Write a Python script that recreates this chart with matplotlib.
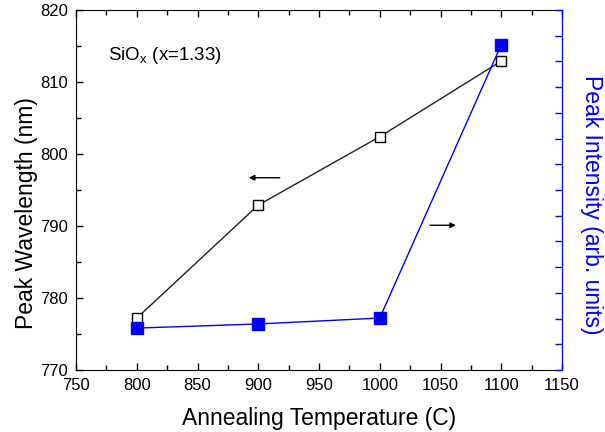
import numpy as np
import matplotlib.pyplot as plt
from matplotlib.ticker import MultipleLocator, NullFormatter

plt.rcParams['font.family'] = ['Liberation Sans', 'DejaVu Sans']

temps = [800, 900, 1000, 1100]
wavelength = [777.2, 792.9, 802.4, 812.9]
intensity = [1.63, 1.79, 2.02, 12.65]   # arb. units

blue = '#0000ff'

fig = plt.figure(figsize=(6.05, 4.32), dpi=100)
ax = fig.add_axes([0.1256, 0.1435, 0.8034, 0.8335])
ax2 = ax.twinx()

ax.plot(temps, wavelength, color='#222222', lw=1, marker='s', ms=7.5,
        mfc='white', mec='black', mew=1, zorder=3)
ax2.plot(temps, intensity, color=blue, lw=1, marker='s', ms=8,
         mfc=blue, mec=blue, zorder=3)

ax.set_xlim(750, 1150)
ax.set_ylim(770, 820)
ax2.set_ylim(0, 14)

ax.xaxis.set_major_locator(MultipleLocator(50))
ax.xaxis.set_minor_locator(MultipleLocator(25))
ax.yaxis.set_major_locator(MultipleLocator(10))
ax.yaxis.set_minor_locator(MultipleLocator(5))
ax.tick_params(which='both', direction='in', top=True, labelsize=12, pad=6)
ax.tick_params(which='major', length=5, width=1)
ax.tick_params(which='minor', length=3.5, width=1)

ax2.yaxis.set_major_locator(MultipleLocator(1))
ax2.yaxis.set_major_formatter(NullFormatter())
ax2.tick_params(axis='y', direction='in', length=5, width=1, colors=blue)
ax2.spines['right'].set_color(blue)
for s in ['left', 'top', 'bottom']:
    ax2.spines[s].set_visible(False)

ax.set_xlabel('Annealing Temperature (C)', fontsize=16.5, labelpad=9.5)
ax.set_ylabel('Peak Wavelength (nm)', fontsize=16.5, labelpad=1.5)
ax.yaxis.label.set_y(0.435)
ax2.set_ylabel('Peak Intensity (arb. units)', fontsize=16.5, color=blue,
               rotation=270, labelpad=26)
ax2.yaxis.label.set_y(0.46)

ax.text(776, 813.7, r'SiO$_\mathregular{x}$ (x=1.33)', fontsize=13.5,
        va='center', ha='left')

ax.annotate('', xy=(890, 796.7), xytext=(920, 796.7),
            arrowprops=dict(arrowstyle='-|>', color='black', lw=1,
                            mutation_scale=8))
ax.annotate('', xy=(1065, 790.1), xytext=(1039, 790.1),
            arrowprops=dict(arrowstyle='-|>', color='black', lw=1,
                            mutation_scale=8))

fig.savefig('out.png', dpi=100)
